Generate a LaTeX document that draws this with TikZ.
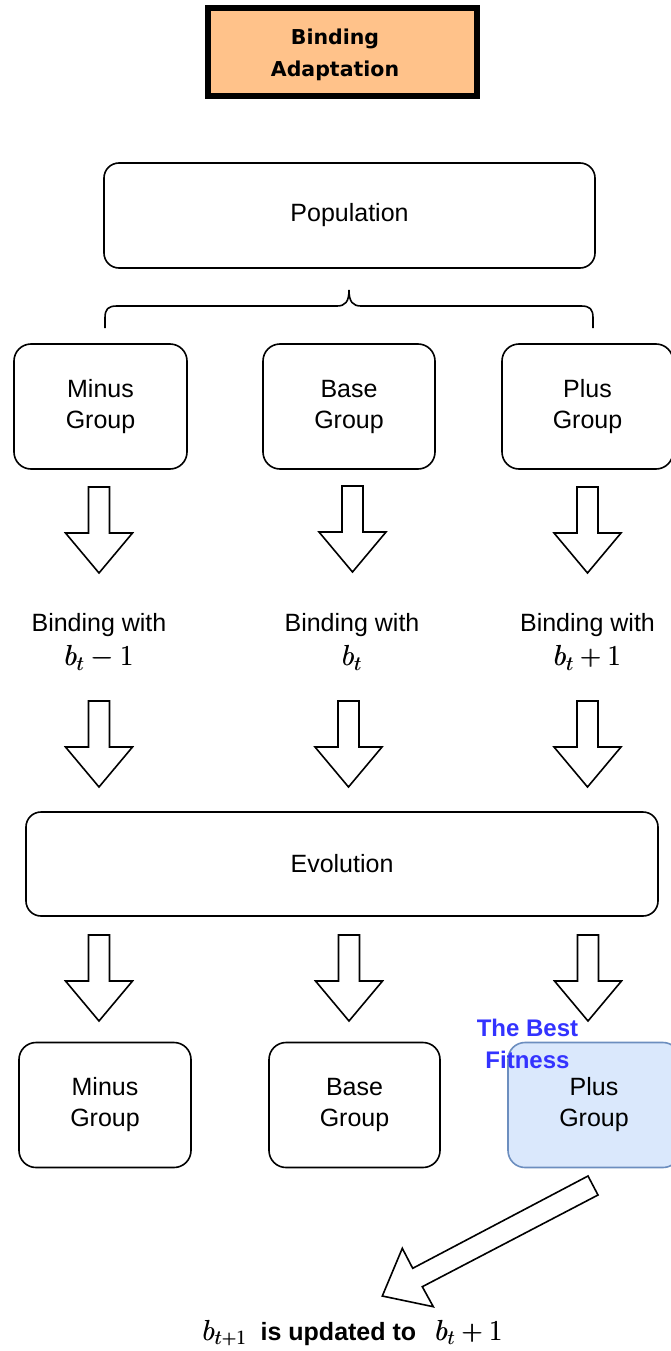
\RequirePackage{fix-cm}
\documentclass[tikz,border=0pt]{standalone}
\usepackage{fontspec}
\setmainfont{Liberation Sans}
\newfontfamily\titlefont{DejaVu Sans}
\definecolor{titlefill}{HTML}{FFC28A}
\definecolor{bestfill}{HTML}{DAE8FC}
\definecolor{beststroke}{HTML}{6C8EBF}
\definecolor{bestblue}{HTML}{3333FF}
% formulas: slightly heavier strokes by setting them twice
\newcommand{\mth}[1]{{\fontsize{29}{32}\selectfont\rlap{$#1$}\hspace{0.7pt}$#1$}}
% two centred lines, set a little low in their box
\newcommand{\twolines}[2]{\raisebox{-2pt}{\begin{tabular}{@{}c@{}}#1\\#2\end{tabular}}}
\tikzset{
  groupbox/.style={draw, line width=1.6pt, rounded corners=17pt, align=center,
    inner sep=0pt, minimum height=125pt, font=\fontsize{25}{31}\selectfont},
  widebox/.style={draw, line width=1.6pt, rounded corners=15pt, align=center,
    inner sep=0pt, minimum height=105pt, font=\fontsize{25}{31}\selectfont},
  lbl/.style={align=center, inner sep=0pt, font=\fontsize{25}{34}\selectfont},
  blockshape/.style={draw, line width=1.6pt, fill=white, line join=miter},
  downblock/.pic={
    \draw[blockshape] (-10.5,0) -- (10.5,0) -- (10.5,46) -- (33.5,46) -- (0,86)
      -- (-33.5,46) -- (-10.5,46) -- cycle;
  }
}
\begin{document}
\begin{tikzpicture}[x=1pt,y=-1pt]
\useasboundingbox (0,0) rectangle (671,1351);
\fill[white] (0,0) rectangle (671,1351);

% title
\node[draw, line width=6pt, fill=titlefill, minimum width=269pt, minimum height=88pt,
  inner sep=0pt] (title) at (342.5,52) {};
\node[align=center, inner sep=0pt, font=\titlefont\bfseries\fontsize{20.5}{32}\selectfont]
  (titletext) at (335,55) {Binding\\Adaptation};

% population and its three groups
\node[widebox, minimum width=491pt] (pop) at (349.5,215.5) {\raisebox{-2pt}{Population}};
\draw[line width=1.6pt]
  (105,328) -- (105,318) .. controls (105,309) and (108,306) .. (117,306)
  -- (337,306) .. controls (345,306) and (349,302) .. (349,290)
  .. controls (349,302) and (353,306) .. (361,306)
  -- (581,306) .. controls (590,306) and (593,309) .. (593,318) -- (593,328);

\node[groupbox, minimum width=173pt] (minus1) at (100.5,406.5) {\twolines{Minus}{Group}};
\node[groupbox, minimum width=172pt] (base1) at (349,406.5) {\twolines{Base}{Group}};
\node[groupbox, minimum width=171pt] (plus1) at (587.5,406.5) {\twolines{Plus}{Group}};

% first row of arrows
\pic at (99,487) {downblock};
\pic at (352.5,486) {downblock};
\pic at (587.5,487) {downblock};

% binding labels
\node[lbl] (bminus) at (99,642) {Binding with\\\mth{b_t-1}};
\node[lbl] (bbase) at (352,642) {Binding with\\\mth{b_t}};
\node[lbl] (bplus) at (587.5,642) {Binding with\\\mth{b_t+1}};

% second row of arrows
\pic at (99,701) {downblock};
\pic at (348.5,701) {downblock};
\pic at (587.5,701) {downblock};

% evolution
\node[widebox, minimum width=632pt, minimum height=104pt] (evo) at (342,864) {\raisebox{-1pt}{Evolution}};

% third row of arrows
\pic at (99,935) {downblock};
\pic at (349,935) {downblock};
\pic at (588,935) {downblock};

% resulting groups
\node[groupbox, minimum width=172pt] (minus2) at (105,1105) {\twolines{Minus}{Group}};
\node[groupbox, minimum width=171pt] (base2) at (354.5,1105) {\twolines{Base}{Group}};
\node[groupbox, minimum width=172pt, fill=bestfill, draw=beststroke] (plus2) at (594,1105) {\twolines{Plus}{Group}};
\node[align=center, inner sep=0pt, text=bestblue, font=\bfseries\fontsize{24}{32}\selectfont]
  (best) at (527.5,1044) {The Best\\Fitness};

% update arrow
\draw[blockshape] (588,1176) -- (412.7,1268.3) -- (402.3,1248.3) -- (382.3,1296)
  -- (433.3,1306.7) -- (422.3,1286.7) -- (598,1195) -- cycle;

\node[inner sep=0pt, font=\fontsize{25}{30}\selectfont] (update) at (352.5,1333)
  {\mth{b_{t+1}}\hspace{14pt}\textbf{is updated to}\hspace{19pt}\mth{b_t+1}};
\end{tikzpicture}
\end{document}
